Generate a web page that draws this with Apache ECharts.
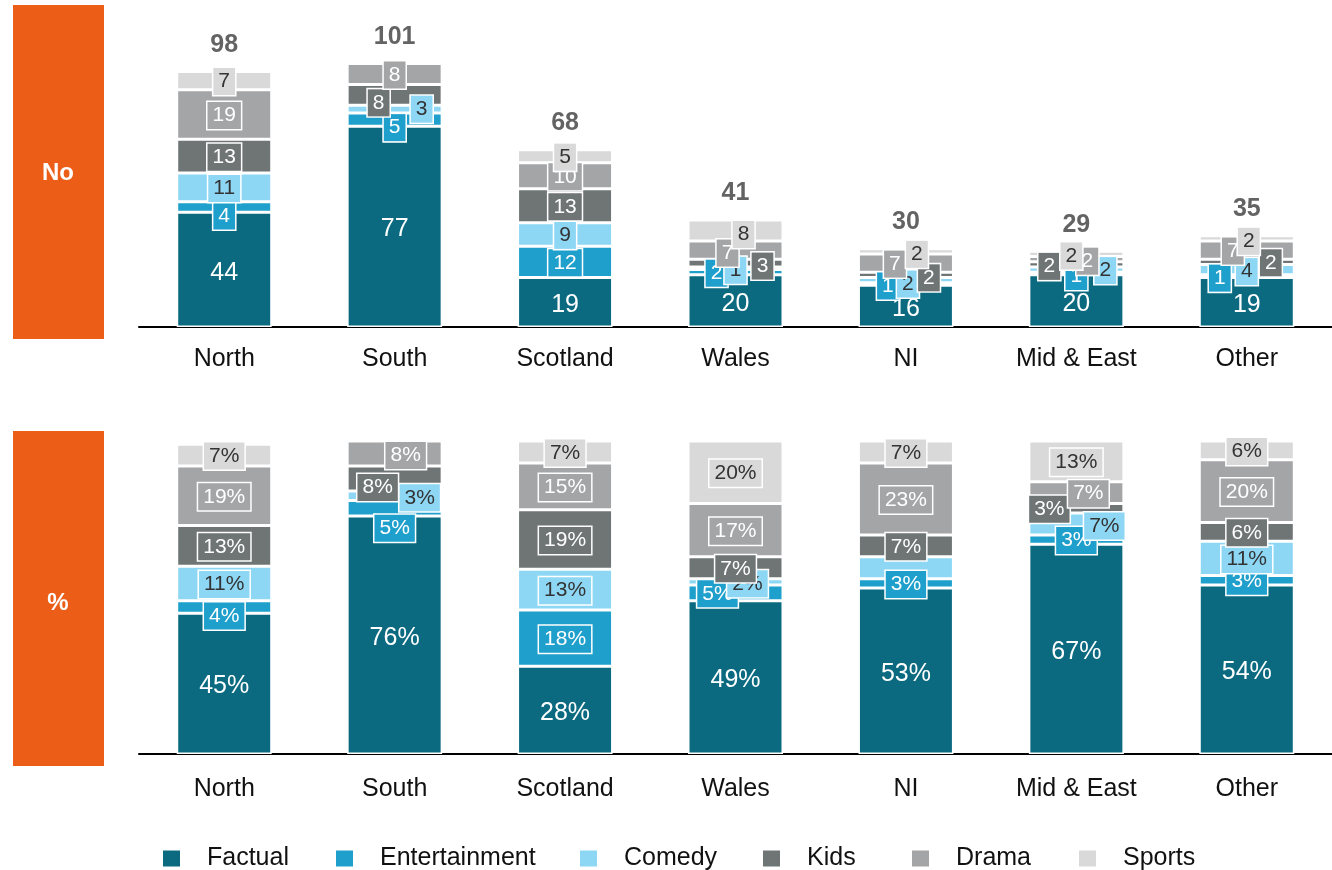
<!DOCTYPE html>
<html>
<head>
<meta charset="utf-8">
<script src="https://cdn.jsdelivr.net/npm/echarts@6/dist/echarts.min.js"></script>
<style>
  html, body { margin: 0; padding: 0; background: #fff; }
  #chart { width: 1332px; height: 870px; }
</style>
</head>
<body>
<div id="chart"></div>
<script>
// Regions and genres
const categories = ['North', 'South', 'Scotland', 'Wales', 'NI', 'Mid & East', 'Other'];
const genres = ['Factual', 'Entertainment', 'Comedy', 'Kids', 'Drama', 'Sports'];

// Number of titles by genre
const countFactual       = [44, 77, 19, 20, 16, 20, 19];
const countEntertainment = [4, 5, 12, 2, 1, 1, 1];
const countComedy        = [11, 3, 9, 1, 2, 2, 4];
const countKids          = [13, 8, 13, 3, 2, 2, 2];
const countDrama         = [19, 8, 10, 7, 7, 2, 7];
const countSports        = [7, 0, 5, 8, 2, 2, 2];

// Share of titles by genre (%)
const pctFactual       = [45, 76, 28, 49, 53, 67, 54];
const pctEntertainment = [4, 5, 18, 5, 3, 3, 3];
const pctComedy        = [11, 3, 13, 2, 7, 7, 11];
const pctKids          = [13, 8, 19, 7, 7, 3, 6];
const pctDrama         = [19, 8, 15, 17, 23, 7, 20];
const pctSports        = [7, 0, 7, 20, 7, 13, 6];

const countBySeries = [countFactual, countEntertainment, countComedy, countKids, countDrama, countSports];
const pctBySeries = [pctFactual, pctEntertainment, pctComedy, pctKids, pctDrama, pctSports];

const FONT = '"Liberation Sans", Arial, Helvetica, sans-serif';

const colours = {
  Factual: '#0B6A80', Entertainment: '#1F9FCB', Comedy: '#8DD7F5',
  Kids: '#6F7575', Drama: '#A4A5A7', Sports: '#D9D9D9'
};
const ink = {
  Factual: '#ffffff', Entertainment: '#ffffff', Comedy: '#333333',
  Kids: '#ffffff', Drama: '#ffffff', Sports: '#333333'
};

// Nudges for labels on thin segments so they do not sit on top of each other
const countShift = {
  North: { Entertainment: [0, 8] },
  South: { Entertainment: [0, 7], Comedy: [27, -1], Kids: [-16, 7] },
  Wales: { Entertainment: [-19, 0], Comedy: [0, 1], Kids: [27, 2], Drama: [-8, 2], Sports: [8, 3] },
  NI: { Entertainment: [-18, 1], Comedy: [2, 3], Kids: [23, 2], Drama: [-11, 0], Sports: [11, 2] },
  'Mid & East': { Entertainment: [0, 2], Comedy: [29, 0], Kids: [-27, 1], Drama: [11, 1], Sports: [-5, 1] },
  Other: { Entertainment: [-27, 1], Comedy: [0, 1], Kids: [24, 0], Drama: [-14, 0], Sports: [2, 2] }
};
const pctShift = {
  North: { Entertainment: [0, 8] },
  South: { Entertainment: [0, 19], Comedy: [25, 1], Kids: [-17, 8], Drama: [11, 1] },
  Wales: { Entertainment: [-18, 0], Comedy: [12, 1] },
  'Mid & East': { Comedy: [28, 1], Kids: [-27, 0], Drama: [12, 0] }
};
const pctHidden = { NI: ['Comedy'] };

function labelFor(genre, suffix) {
  if (genre === 'Factual') {
    return {
      show: true, position: 'inside', color: '#fff', fontSize: 25,
      fontFamily: FONT, offset: [0, 3],
      formatter: p => p.value + suffix
    };
  }
  return {
    show: true, position: 'inside', color: ink[genre], fontSize: 21,
    fontFamily: FONT, offset: [0, 1],
    backgroundColor: colours[genre], borderColor: '#ffffff', borderWidth: 1.5,
    padding: [2, 5, 1, 5], lineHeight: 24,
    formatter: p => p.value + suffix
  };
}

function buildStack(valuesBySeries, axisIdx, stackName, suffix, shifts, hidden) {
  return genres.map((g, gi) => ({
    name: g,
    type: 'bar',
    stack: stackName,
    xAxisIndex: axisIdx,
    yAxisIndex: axisIdx,
    barWidth: 95,
    itemStyle: { color: colours[g], borderColor: '#ffffff', borderWidth: 1.5 },
    label: labelFor(g, suffix),
    emphasis: { disabled: true },
    data: valuesBySeries[gi].map((v, ci) => {
      const cat = categories[ci];
      const item = { value: v };
      const off = shifts[cat] && shifts[cat][g];
      const hide = v === 0 || (hidden[cat] && hidden[cat].includes(g));
      if (off || hide) {
        item.label = {};
        if (off) item.label.offset = g === 'Factual' ? off : [off[0], off[1] + 1];
        if (hide) item.label.show = false;
      }
      return item;
    })
  }));
}

const totals = categories.map((_, ci) => countBySeries.reduce((s, arr) => s + arr[ci], 0));

function categoryAxis(gridIndex, margin) {
  return {
    gridIndex,
    type: 'category',
    data: categories,
    axisLine: { lineStyle: { color: '#000', width: 2 } },
    axisTick: { show: false },
    axisLabel: { color: '#111', fontSize: 25, margin, fontFamily: FONT }
  };
}

const legendLefts = [161, 334, 578, 761, 910, 1077];

const chart = echarts.init(document.getElementById('chart'), null, { renderer: 'canvas' });
chart.setOption({
  animation: false,
  backgroundColor: '#ffffff',
  textStyle: { fontFamily: FONT },
  graphic: [
    { type: 'rect', shape: { x: 13, y: 5, width: 91, height: 334 }, style: { fill: '#EC5D17' } },
    { type: 'rect', shape: { x: 13, y: 431, width: 91, height: 335 }, style: { fill: '#EC5D17' } },
    { type: 'text', x: 58, y: 173, style: { text: 'No', fill: '#fff', fontSize: 24, fontWeight: 'bold', fontFamily: FONT, align: 'center', verticalAlign: 'middle' } },
    { type: 'text', x: 58, y: 603, style: { text: '%', fill: '#fff', fontSize: 24, fontWeight: 'bold', fontFamily: FONT, align: 'center', verticalAlign: 'middle' } }
  ],
  grid: [
    { left: 139, top: 14, width: 1193, height: 313 },
    { left: 139, top: 441, width: 1193, height: 313 }
  ],
  xAxis: [categoryAxis(0, 20), categoryAxis(1, 23)],
  yAxis: [
    { gridIndex: 0, type: 'value', min: 0, max: 120, show: false, splitLine: { show: false } },
    { gridIndex: 1, type: 'value', min: 0, max: 100, show: false, splitLine: { show: false } }
  ],
  legend: genres.map((g, i) => ({
    data: [{ name: g, icon: 'rect' }],
    left: legendLefts[i], top: 846,
    padding: 0,
    itemWidth: 19, itemHeight: 18,
    selectedMode: false,
    textStyle: { fontSize: 25, color: '#111', fontFamily: FONT, padding: [0, 0, 0, 21] }
  })),
  series: [
    ...buildStack(countBySeries, 0, 'count', '', countShift, {}),
    ...buildStack(pctBySeries, 1, 'pct', '%', pctShift, pctHidden),
    {
      name: 'Total',
      type: 'scatter',
      xAxisIndex: 0, yAxisIndex: 0,
      symbolSize: 0,
      silent: true,
      z: 20,
      label: {
        show: true, position: 'top', distance: 14,
        color: '#3c3c3c', fontSize: 25, fontWeight: 'bold', fontFamily: FONT,
        formatter: p => p.value
      },
      data: totals
    }
  ]
});
</script>
</body>
</html>
